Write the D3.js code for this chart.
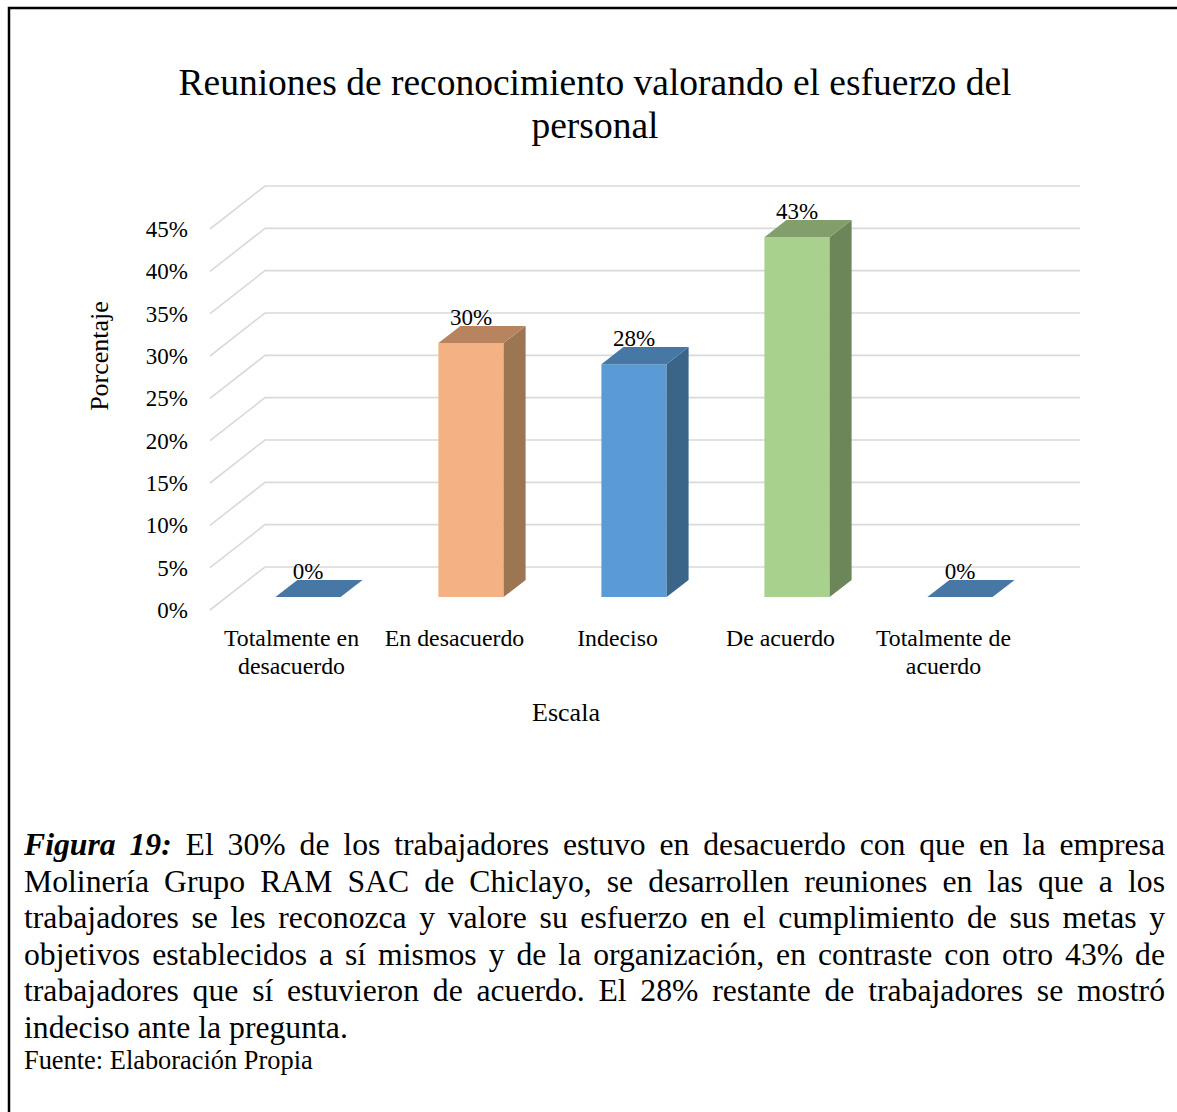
<!DOCTYPE html>
<html>
<head>
<meta charset="utf-8">
<script src="https://cdn.jsdelivr.net/npm/d3@7"></script>
<style>
  html, body { margin: 0; padding: 0; background: #fff; }
  svg { display: block; }
  text { font-family: "Liberation Serif", "Times New Roman", serif; fill: #000; }
</style>
</head>
<body>
<svg id="chart" width="1177" height="1112"></svg>
<script>
// ---- data ----
const categories = ["Totalmente en desacuerdo", "En desacuerdo", "Indeciso", "De acuerdo", "Totalmente de acuerdo"];
const categoryLabelLines = [["Totalmente en", "desacuerdo"], ["En desacuerdo"], ["Indeciso"], ["De acuerdo"], ["Totalmente de", "acuerdo"]];
const values = [0, 0.30, 0.275, 0.425, 0];
const yTicks = [0, 0.05, 0.10, 0.15, 0.20, 0.25, 0.30, 0.35, 0.40, 0.45];
const titleLines = ["Reuniones de reconocimiento valorando el esfuerzo del", "personal"];
const xTitle = "Escala";
const yTitle = "Porcentaje";
const captionLines = [
  [["Figura 19:", "bi"], ["El 30% de los trabajadores estuvo en desacuerdo con que en la empresa", "r"]],
  [["Molinería Grupo RAM SAC de Chiclayo, se desarrollen reuniones en las que a los", "r"]],
  [["trabajadores se les reconozca y valore su esfuerzo en el cumplimiento de sus metas y", "r"]],
  [["objetivos establecidos a sí mismos y de la organización, en contraste con otro 43% de", "r"]],
  [["trabajadores que sí estuvieron de acuerdo. El 28% restante de trabajadores se mostró", "r"]],
  [["indeciso ante la pregunta.", "r"]]
];
const sourceText = "Fuente: Elaboración Propia";

// ---- colours (front, top, side) ----
const palette = [
  ["#5B9BD5", "#4677A5", "#3A6589"],
  ["#F4B183", "#B8845F", "#9C7553"],
  ["#5B9BD5", "#4677A5", "#3A6589"],
  ["#A9D18E", "#819E6B", "#6D8659"],
  ["#5B9BD5", "#4677A5", "#3A6589"]
];

const svg = d3.select("#chart");

// frame (top and left border)
svg.append("path").attr("d", "M9,1112 V8 H1177").attr("fill", "none").attr("stroke", "#000").attr("stroke-width", 2.5);

// scales
const x = d3.scaleBand().domain(categories).range([210, 1025]).paddingInner(0.6).paddingOuter(0.3);
const y = d3.scaleLinear().domain([0, 0.45]).range([610, 229]);
const DX = 55, DY = -43;           // depth vector front -> back
const d0 = 0.3, d1 = 0.7;          // bar depth range
const off = d => [DX * d, DY * d];

// gridlines: side wall diagonal + back wall horizontal
const grid = svg.append("g");
yTicks.forEach(v => {
  const yf = y(v);
  grid.append("path")
    .attr("d", `M${x.range()[0]},${yf} L${x.range()[0] + DX},${yf + DY} H${x.range()[1] + DX}`)
    .attr("fill", "none").attr("stroke", "#D9D9D9").attr("stroke-width", 1.6);
});

// bars
const bars = svg.append("g");
categories.forEach((c, i) => {
  const v = values[i];
  const xl = x(c), xr = x(c) + x.bandwidth();
  const [fx, fy] = off(d0), [bx, by] = off(d1);
  const yb = y(0), yt = y(v);
  const col = palette[i];
  if (v > 0) {
    bars.append("path")
      .attr("d", `M${xl + fx},${yb + fy} V${yt + fy} H${xr + fx} V${yb + fy} Z`)
      .attr("fill", col[0]);
    bars.append("path")
      .attr("d", `M${xr + fx},${yb + fy} V${yt + fy} L${xr + bx},${yt + by} V${yb + by} Z`)
      .attr("fill", col[2]);
  }
  bars.append("path")
    .attr("d", `M${xl + fx},${yt + fy} L${xl + bx},${yt + by} H${xr + bx} L${xr + fx},${yt + fy} Z`)
    .attr("fill", col[1]);
  // data label
  svg.append("text")
    .attr("x", (xl + xr) / 2 + fx)
    .attr("y", yt + by - 1)
    .attr("text-anchor", "middle")
    .attr("font-size", 23)
    .text(d3.format(".0%")(v));
});

// y axis (labels only)
const yAxis = d3.axisLeft(y).tickValues(yTicks).tickFormat(d3.format(".0%")).tickSize(0).tickPadding(10);
const gy = svg.append("g").attr("transform", "translate(198,0)").call(yAxis);
gy.select(".domain").remove();
gy.selectAll("text").attr("font-size", 23).attr("font-family", '"Liberation Serif", "Times New Roman", serif').attr("fill", "#000");

// category labels
categories.forEach((c, i) => {
  const cx = x(c) + x.bandwidth() / 2;
  const t = svg.append("text").attr("text-anchor", "middle").attr("font-size", 23.8);
  categoryLabelLines[i].forEach((ln, j) => {
    t.append("tspan").attr("x", cx).attr("y", 646 + j * 27.5).text(ln);
  });
});

// axis titles
svg.append("text").attr("x", 566).attr("y", 721).attr("text-anchor", "middle").attr("font-size", 26).text(xTitle);
svg.append("text").attr("transform", "translate(108,356) rotate(-90)").attr("text-anchor", "middle").attr("font-size", 26).text(yTitle);

// chart title
titleLines.forEach((ln, j) => {
  svg.append("text").attr("x", 595).attr("y", 95 + j * 43).attr("text-anchor", "middle").attr("font-size", 37.5).text(ln);
});

// caption (justified)
const capX0 = 24, capX1 = 1165, capFS = 31.7, capLH = 36.6, capY0 = 855;
captionLines.forEach((line, li) => {
  const words = [];
  line.forEach(([txt, st]) => txt.split(" ").forEach(w => words.push([w, st])));
  const yy = capY0 + li * capLH;
  const nodes = words.map(([w, st]) => {
    const t = svg.append("text").attr("y", yy).attr("font-size", capFS).text(w);
    if (st === "bi") t.attr("font-weight", "bold").attr("font-style", "italic");
    return t;
  });
  const widths = nodes.map(n => n.node().getComputedTextLength());
  const total = d3.sum(widths);
  const last = li === captionLines.length - 1;
  const gap = last ? capFS * 0.25 : (capX1 - capX0 - total) / (words.length - 1);
  let cx = capX0;
  nodes.forEach((n, k) => { n.attr("x", cx); cx += widths[k] + gap; });
});
svg.append("text").attr("x", 24).attr("y", 1069).attr("font-size", 26.4).text(sourceText);
</script>
</body>
</html>
